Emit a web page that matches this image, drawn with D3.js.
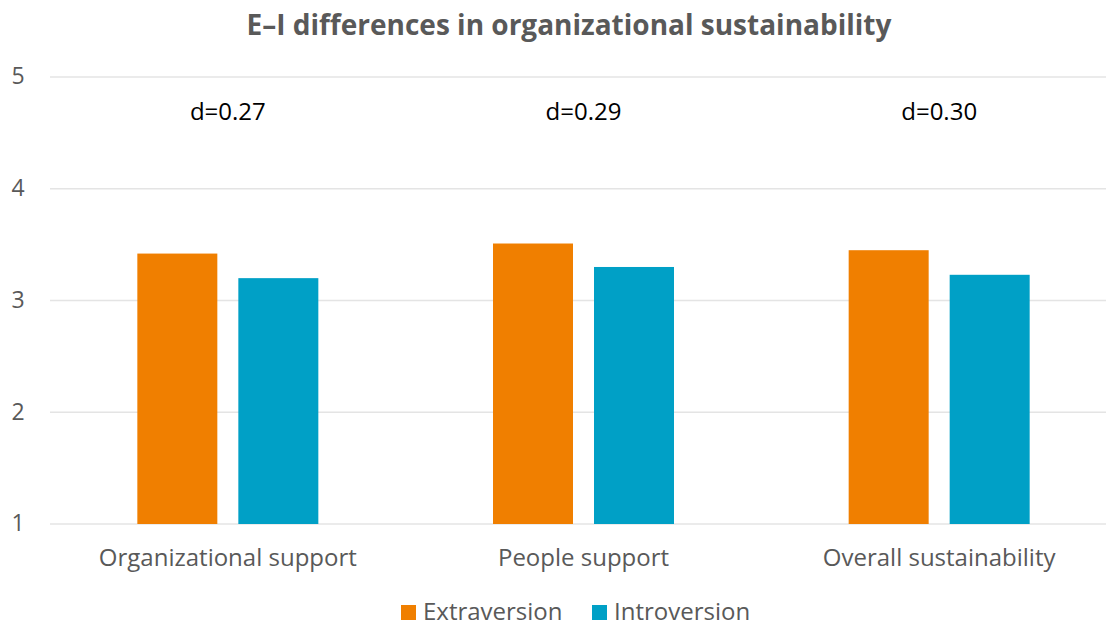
<!DOCTYPE html>
<html>
<head>
<meta charset="utf-8">
<script src="https://cdn.jsdelivr.net/npm/d3@7"></script>
<style>
  html, body { margin: 0; padding: 0; background: #fff; }
  svg { display: block; font-family: "Open Sans", sans-serif; }
</style>
</head>
<body>
<svg id="chart" width="1106" height="626"></svg>
<script>
const categories = ["Organizational support", "People support", "Overall sustainability"];
const seriesNames = ["Extraversion", "Introversion"];
const extraversion = [3.42, 3.51, 3.45];
const introversion = [3.20, 3.30, 3.23];
const effectLabels = ["d=0.27", "d=0.29", "d=0.30"];
const yTicks = [1, 2, 3, 4, 5];
const colors = ["#F07F00", "#00A0C6"];

const svg = d3.select("#chart");
const W = 1106, H = 626;
const plotTop = 77, plotBottom = 524, plotLeft = 50, plotRight = 1117;

const x0 = d3.scaleBand().domain(categories).range([plotLeft, plotRight]).paddingInner(0).paddingOuter(0);
const x1 = d3.scaleBand().domain(seriesNames).range([-90.5, 90.5]).paddingInner(0.208).paddingOuter(0);
const y = d3.scaleLinear().domain([1, 5]).range([plotBottom, plotTop]);

// gridlines
svg.append("g").selectAll("line").data(yTicks).join("line")
  .attr("x1", plotLeft).attr("x2", W)
  .attr("y1", d => y(d)).attr("y2", d => y(d))
  .attr("stroke", "#e4e4e4").attr("stroke-width", 1.5);

// y axis labels
const yAxis = d3.axisLeft(y).tickValues(yTicks).tickSize(0).tickPadding(0).tickFormat(d3.format("d"));
const yg = svg.append("g").attr("transform", `translate(18,0)`).call(yAxis);
yg.select(".domain").remove();
yg.selectAll("text").attr("font-size", 23).attr("fill", "#595959")
  .attr("font-family", "'Open Sans', sans-serif").attr("text-anchor", "middle").attr("dy", "0.3em");

// bars
const data = categories.map((c, i) => ({ cat: c, vals: [extraversion[i], introversion[i]] }));
const groups = svg.append("g").selectAll("g").data(data).join("g")
  .attr("transform", d => `translate(${x0(d.cat) + x0.bandwidth() / 2},0)`);
groups.selectAll("rect").data(d => d.vals.map((v, j) => ({ s: seriesNames[j], v, j })))
  .join("rect")
  .attr("x", d => x1(d.s))
  .attr("width", x1.bandwidth())
  .attr("y", d => y(d.v))
  .attr("height", d => y(1) - y(d.v))
  .attr("fill", d => colors[d.j]);

// effect size labels
svg.append("g").selectAll("text").data(categories).join("text")
  .attr("x", d => x0(d) + x0.bandwidth() / 2)
  .attr("y", 120)
  .attr("text-anchor", "middle")
  .attr("font-size", 24).attr("fill", "#000")
  .text((d, i) => effectLabels[i]);

// x axis labels
const xAxis = d3.axisBottom(x0).tickSize(0).tickPadding(0);
const xg = svg.append("g").attr("transform", `translate(0,${plotBottom})`).call(xAxis);
xg.select(".domain").remove();
xg.selectAll("text").attr("font-size", 24).attr("fill", "#595959")
  .attr("font-family", "'Open Sans', sans-serif").attr("dy", "0").attr("y", 42);

// title
svg.append("text").attr("x", 569).attr("y", 35).attr("text-anchor", "middle")
  .attr("font-size", 28).attr("font-weight", "bold").attr("fill", "#595959")
  .text("E–I differences in organizational sustainability");

// legend
const legendX = [401, 592];
const lg = svg.append("g").selectAll("g").data(seriesNames).join("g")
  .attr("transform", (d, i) => `translate(${legendX[i]},0)`);
lg.append("rect").attr("x", 0).attr("y", 605).attr("width", 15).attr("height", 15)
  .attr("fill", (d, i) => colors[i]);
lg.append("text").attr("x", 22).attr("y", 620).attr("font-size", 24).attr("fill", "#595959").text(d => d);
</script>
</body>
</html>
